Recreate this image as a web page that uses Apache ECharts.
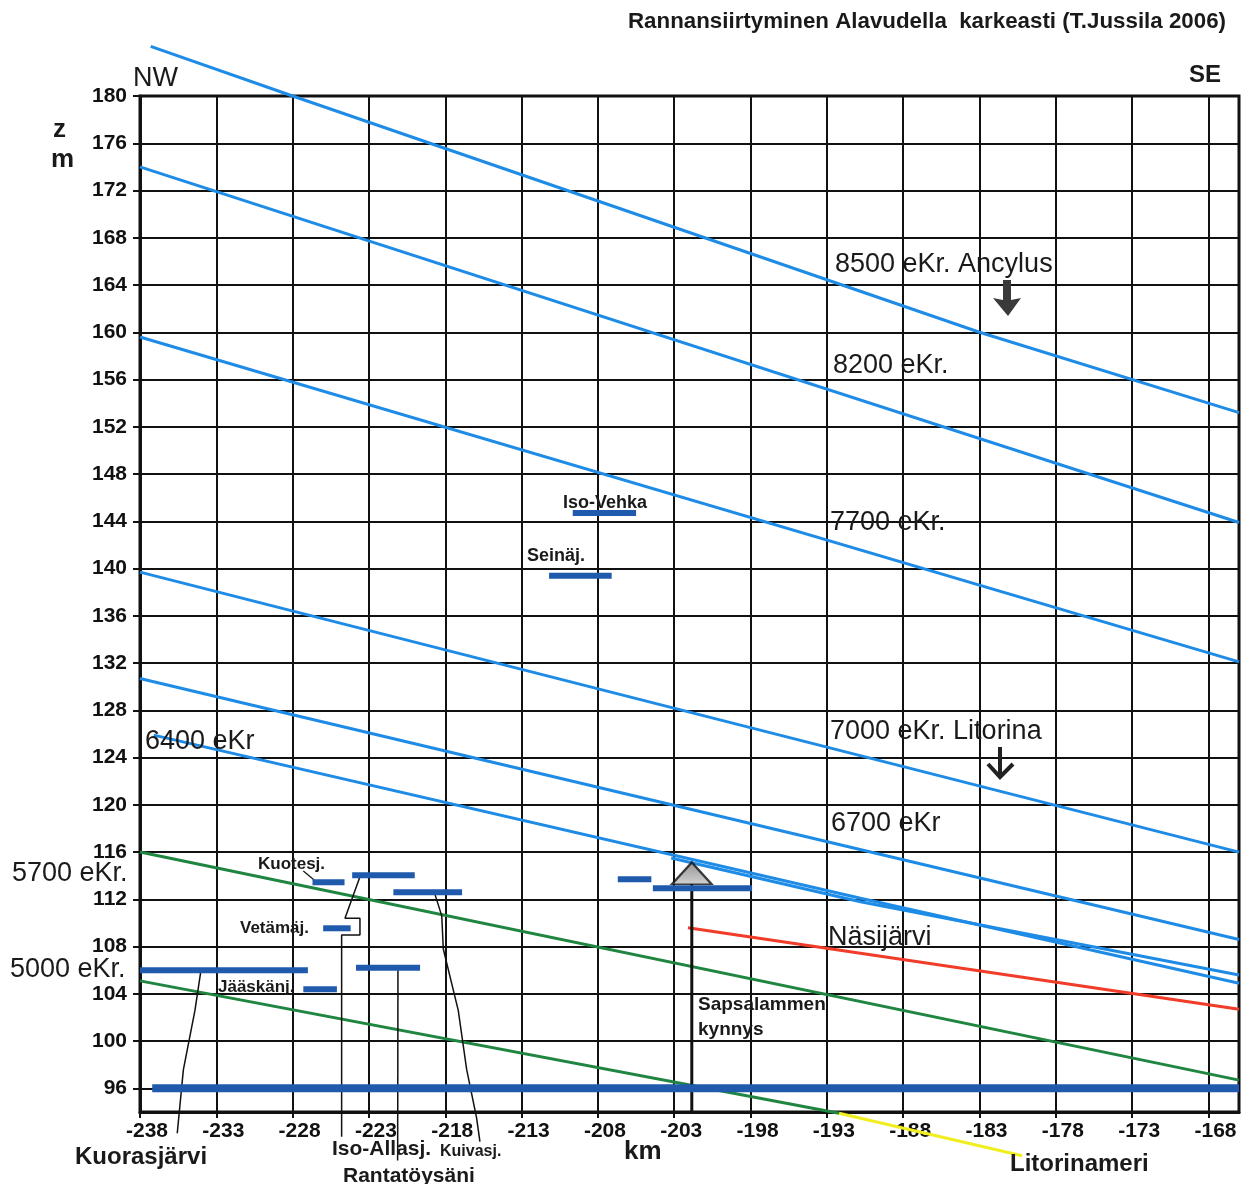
<!DOCTYPE html>
<html><head><meta charset="utf-8">
<script src="https://cdn.jsdelivr.net/npm/echarts@6/dist/echarts.min.js"></script>
<style>html,body{margin:0;padding:0;background:#fff}#c{width:1250px;height:1184px}</style>
</head><body><div id="c"></div>
<script>
// ---- axes ----
const xMin = -238, xMax = -166, xStep = 5;
const yMin = 94, yMax = 180;
const yTickValues = [96,100,104,108,112,116,120,124,128,132,136,140,144,148,152,156,160,164,168,172,176,180];

// ---- shoreline (isobase) lines: [km, m] ----
const ancylus8500 = [[-237.3,184.2],[-228,180],[-183,160],[-166,153.2]];
const line8200 = [[-238,174.0],[-166,143.9]];
const line7700 = [[-238,159.6],[-166,132.1]];
const litorina7000 = [[-238,139.7],[-166,116.0]];
const line6700 = [[-238,130.7],[-166,108.6]];
const line6400 = [[-237.1,125.9],[-190.8,112.1],[-166,104.9]];
const line6400b = [[-203.2,115.5],[-190.8,111.8],[-166,105.6]];
const green5700 = [[-238,116.0],[-166,96.7]];
const green5000 = [[-238,105.1],[-192.2,93.9]];
const litorinameri = [[-192.2,93.9],[-180.2,90.3]];
const nasijarvi = [[-202.1,109.6],[-166,102.7]];

// ---- lake levels: [x start, x end, level] ----
const lakeBars = [
  [-237.2,-166,96.0],
  [-209.65,-205.5,144.7],
  [-211.2,-207.1,139.4],
  [-226.7,-224.6,113.45],
  [-224.1,-220.0,114.05],
  [-221.4,-216.9,112.6],
  [-226.0,-224.2,109.55],
  [-238.0,-227.0,106.0],
  [-223.85,-219.65,106.2],
  [-227.3,-225.1,104.4],
  [-206.7,-204.5,113.7],
  [-204.4,-197.9,112.95]
];

// ---- threshold (Sapsalammen kynnys) ----
const threshold = [[-201.85,114.2]];
const thresholdStem = [[-201.85,113.3],[-201.85,94]];

// ---- leader lines ----
const leaderKuoras = [[-234.02,105.88],[-234.4,102.6],[-235.16,97.56],[-235.56,92.2]];
const leaderIsoAllas = [[-223.59,113.92],[-224.57,110.4],[-223.59,110.4],[-223.59,108.98],[-224.79,108.98],[-224.79,91.9]];
const leaderRanta = [[-221.1,106.0],[-221.12,89.9]];
const leaderKuivas = [[-218.67,112.4],[-218.23,110.6],[-218.13,107.8],[-217.15,102.6],[-216.6,97.6],[-215.95,93.5],[-215.73,91.5]];
const leaderKuotes = [[-227.3,114.4],[-226.55,113.6]];

const BLUE = '#1e8ce6', GREEN = '#1f8540', RED = '#f03c28', DARK = '#1f5aad', YELLOW = '#f0ee1e';
const F = '"Liberation Sans", Arial, sans-serif';

function ln(data, color, width, clip) {
  return {type:'line', data, showSymbol:false, symbol:'none', clip: clip !== false, silent:true,
    lineStyle:{color, width}, z:3};
}

const chart = echarts.init(document.getElementById('c'), null, {renderer:'canvas'});

const TITLE = 'Rannansiirtyminen Alavudella  karkeasti (T.Jussila 2006)';
const titleFont = 'bold 22px ' + F;
const mctx = document.createElement('canvas').getContext('2d');
mctx.font = titleFont;
const titleScale = 598 / mctx.measureText(TITLE).width;

const texts = [
  ['NW', 133, 79, '27px ' + F],
  ['SE', 1189, 75, 'bold 24px ' + F],
  ['z', 53, 130, 'bold 26px ' + F],
  ['m', 51, 160, 'bold 26px ' + F],
  ['km', 624, 1152, 'bold 26px ' + F],
  ['8500 eKr. Ancylus', 835, 265, '27px ' + F],
  ['8200 eKr.', 833, 366, '27px ' + F],
  ['7700 eKr.', 830, 523, '27px ' + F],
  ['7000 eKr. Litorina', 830, 732, '27px ' + F],
  ['6700 eKr', 831, 824, '27px ' + F],
  ['6400 eKr', 145, 742, '27px ' + F],
  ['5700 eKr.', 12, 874, '27px ' + F],
  ['5000 eKr.', 10, 970, '27px ' + F],
  ['Näsijärvi', 828, 938, '27px ' + F],
  ['Sapsalammen', 698, 1005, 'bold 19px ' + F],
  ['kynnys', 698, 1030, 'bold 19px ' + F],
  ['Kuorasjärvi', 75, 1157, 'bold 24px ' + F],
  ['Iso-Allasj.', 332, 1149, 'bold 21px ' + F],
  ['Kuivasj.', 440, 1152, 'bold 16px ' + F],
  ['Rantatöysäni', 343, 1176, 'bold 21px ' + F],
  ['Litorinameri', 1010, 1164, 'bold 24px ' + F],
  ['Iso-Vehka', 563, 503, 'bold 18px ' + F],
  ['Seinäj.', 527, 556, 'bold 18px ' + F],
  ['Kuotesj.', 258, 864, 'bold 17px ' + F],
  ['Vetämäj.', 240, 928, 'bold 17px ' + F],
  ['Jääskänj.', 218, 987, 'bold 17px ' + F]
];

const graphic = texts.map(t => ({type:'text', x:t[1], y:t[2], z:100,
  style:{text:t[0], font:t[3], fill:'#1a1a1a', align:'left', verticalAlign:'middle'}}));
graphic.push({type:'text', x:628, y:22, z:100, scaleX:titleScale,
  style:{text:TITLE, font:titleFont, fill:'#1a1a1a', align:'left', verticalAlign:'middle'}});
// arrows
graphic.push({type:'polygon', z:100, shape:{points:[[1003,280],[1011,280],[1011,300],[1021,298],[1008,316],[993,298],[1003,300]]}, style:{fill:'#3a3a3a'}});
graphic.push({type:'polyline', z:100, shape:{points:[[1000,747],[1000,776]]}, style:{stroke:'#222', lineWidth:4}});
graphic.push({type:'polyline', z:100, shape:{points:[[988,764],[1000,777],[1013,764]]}, style:{stroke:'#222', lineWidth:4, fill:null}});

chart.setOption({
  animation:false,
  backgroundColor:'#fff',
  grid:{left:140, top:96, width:1099, height:1016, show:true, borderColor:'#111', borderWidth:3, backgroundColor:'transparent'},
  xAxis:{type:'value', min:xMin, max:xMax, interval:xStep,
    axisLine:{show:true, onZero:false, lineStyle:{color:'#111', width:3}},
    axisTick:{show:true, length:6, lineStyle:{color:'#111', width:2}},
    axisLabel:{color:'#111', fontFamily:F, fontWeight:'bold', fontSize:21, margin:9, padding:[0,0,0,14], showMaxLabel:false,
      formatter: v => (v === xMax ? '' : String(v))},
    splitLine:{show:true, lineStyle:{color:'#111', width:2}}
  },
  yAxis:{type:'value', min:yMin, max:yMax, interval:2,
    axisLine:{show:true, onZero:false, lineStyle:{color:'#111', width:3}},
    axisTick:{show:true, length:7, customValues:yTickValues, lineStyle:{color:'#111', width:2}},
    axisLabel:{color:'#111', fontFamily:F, fontWeight:'bold', fontSize:21, margin:13, customValues:yTickValues},
    splitLine:{show:true, lineStyle:{color:'#111', width:2}}
  },
  graphic,
  series:[
    ln(ancylus8500, BLUE, 3, false),
    ln(line8200, BLUE, 3),
    ln(line7700, BLUE, 3),
    ln(litorina7000, BLUE, 3),
    ln(line6700, BLUE, 3),
    ln(line6400, BLUE, 3),
    ln(line6400b, BLUE, 3),
    ln(green5700, GREEN, 3),
    ln(green5000, GREEN, 3, false),
    ln(litorinameri, YELLOW, 3, false),
    ln(nasijarvi, RED, 3),
    {type:'custom', data:lakeBars, encode:{x:[0,1], y:2}, z:4, silent:true, clip:false,
      renderItem(params, api){
        const p0 = api.coord([api.value(0), api.value(2)]);
        const p1 = api.coord([api.value(1), api.value(2)]);
        return {type:'line', shape:{x1:p0[0], y1:p0[1], x2:p1[0], y2:p1[1]},
          style:{stroke:DARK, lineWidth: params.dataIndex === 0 ? 8 : 6}};
      }},
    ln(thresholdStem, '#111', 3),
    ln(leaderKuoras, '#111', 1.5, false),
    ln(leaderIsoAllas, '#111', 1.5, false),
    ln(leaderRanta, '#111', 1.5, false),
    ln(leaderKuivas, '#111', 1.5, false),
    ln(leaderKuotes, '#111', 1.2, false),
    {type:'scatter', data:threshold, symbol:'triangle', symbolSize:[40,22], z:6, silent:true,
      itemStyle:{color:{type:'linear', x:0, y:0, x2:0, y2:1, colorStops:[{offset:0,color:'#777'},{offset:1,color:'#c8c8c8'}]},
        borderColor:'#111', borderWidth:2}}
  ]
});
</script></body></html>
